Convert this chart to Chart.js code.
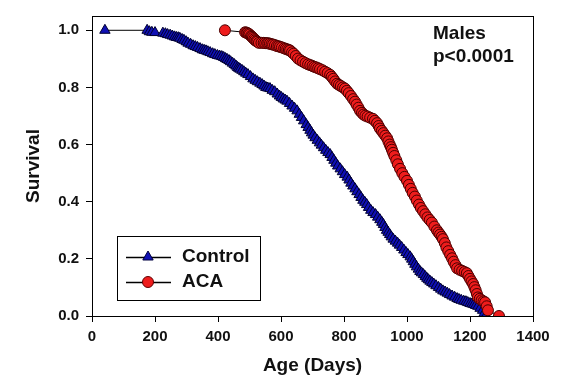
<!DOCTYPE html>
<html>
<head>
<meta charset="utf-8">
<script src="https://cdn.jsdelivr.net/npm/chart.js@4"></script>
<style>
  html, body { margin: 0; padding: 0; background: #fff; }
  #wrap { width: 562px; height: 382px; }
</style>
</head>
<body>
<div id="wrap"><canvas id="chart" width="562" height="382"></canvas></div>
<script>
// Kaplan-Meier survival
const controlDays = [41, 175, 182, 190, 200, 225, 233, 240, 248, 255, 262, 268, 274, 279, 286, 292, 299, 305, 313, 321, 328, 335, 343, 350, 356, 362, 368, 375, 383, 390, 398, 405, 412, 418, 424, 429,
  435, 440, 446, 452, 457, 462, 466, 470, 476, 482, 488, 495, 503, 511, 518, 525, 533, 540, 546, 552, 558, 565, 572, 580, 588, 595, 601, 607, 613, 619, 627, 635, 643, 651, 658, 665, 672, 680, 686, 692,
  697, 702, 708, 715, 722, 728, 735, 742, 749, 756, 762, 768, 774, 780, 788, 795, 802, 810, 816, 822, 828, 835, 841, 848, 854, 860, 866, 872, 878, 885, 892, 900, 907, 914, 920, 925, 930, 935, 940, 945,
  950, 956, 963, 970, 976, 983, 990, 997, 1003, 1010, 1015, 1020, 1025, 1030, 1036, 1041, 1046, 1052, 1058, 1063, 1068, 1073, 1079, 1085, 1092, 1100, 1107, 1114, 1121, 1128, 1135, 1143, 1151, 1159, 1165, 1172, 1180, 1187, 1193, 1200,
  1206, 1212, 1218, 1225, 1232, 1240, 1245, 1250];
const controlSurv = [1.0, 1.0, 0.995, 0.993, 0.992, 0.99, 0.988, 0.985, 0.983, 0.98, 0.977, 0.975, 0.974, 0.972, 0.968, 0.965, 0.96, 0.955, 0.951, 0.946, 0.943, 0.94, 0.936, 0.932, 0.93, 0.928, 0.925, 0.922, 0.918, 0.915, 0.912, 0.91, 0.908, 0.905, 0.901, 0.898,
  0.894, 0.89, 0.885, 0.88, 0.875, 0.87, 0.867, 0.864, 0.86, 0.855, 0.85, 0.845, 0.838, 0.83, 0.825, 0.82, 0.815, 0.81, 0.805, 0.80, 0.798, 0.796, 0.79, 0.785, 0.777, 0.77, 0.765, 0.76, 0.756, 0.752, 0.744, 0.735, 0.727, 0.718, 0.706, 0.695, 0.683, 0.67, 0.66, 0.65,
  0.641, 0.633, 0.624, 0.615, 0.606, 0.598, 0.589, 0.58, 0.572, 0.565, 0.555, 0.545, 0.535, 0.525, 0.515, 0.505, 0.495, 0.486, 0.476, 0.465, 0.455, 0.445, 0.435, 0.425, 0.415, 0.405, 0.398, 0.39, 0.38, 0.37, 0.362, 0.355, 0.346, 0.337, 0.328, 0.32, 0.31, 0.30, 0.293, 0.285,
  0.277, 0.269, 0.262, 0.255, 0.248, 0.24, 0.231, 0.222, 0.215, 0.207, 0.199, 0.19, 0.181, 0.172, 0.164, 0.156, 0.151, 0.145, 0.138, 0.132, 0.127, 0.122, 0.117, 0.112, 0.106, 0.10, 0.094, 0.088, 0.084, 0.08, 0.075, 0.07, 0.066, 0.061, 0.058, 0.055, 0.052, 0.05, 0.047, 0.044,
  0.042, 0.04, 0.037, 0.034, 0.027, 0.02, 0.01, 0.0];

const acaDays = [422, 486, 490, 493, 497, 500, 505, 508, 511, 515, 518, 522, 525, 530, 538, 545, 550, 556, 560, 565, 570, 575, 581, 587, 592, 597, 603, 610, 615, 620, 625, 629, 635, 640, 647, 654,
  662, 670, 678, 686, 693, 700, 706, 712, 718, 724, 732, 740, 748, 756, 761, 766, 772, 778, 784, 790, 797, 803, 809, 815, 822, 829, 835, 840, 846, 851, 857, 862, 868, 875, 883, 892, 898, 905, 910, 914,
  920, 925, 931, 937, 941, 945, 949, 952, 956, 960, 966, 971, 978, 985, 992, 1000, 1006, 1012, 1018, 1025, 1031, 1038, 1044, 1051, 1058, 1065, 1072, 1079, 1087, 1095, 1100, 1105, 1110, 1114, 1120, 1125, 1131, 1137, 1143, 1148,
  1154, 1159, 1167, 1175, 1183, 1190, 1195, 1200, 1205, 1210, 1214, 1218, 1222, 1225, 1231, 1237, 1243, 1248, 1253, 1257, 1292];
const acaSurv = [1.0, 0.993, 0.992, 0.99, 0.988, 0.985, 0.98, 0.977, 0.973, 0.969, 0.965, 0.962, 0.96, 0.956, 0.956, 0.956, 0.955, 0.955, 0.954, 0.953, 0.951, 0.95, 0.948, 0.945, 0.944, 0.942, 0.94, 0.937, 0.935, 0.933, 0.931, 0.929, 0.923, 0.918, 0.91, 0.901,
  0.895, 0.89, 0.885, 0.881, 0.878, 0.875, 0.872, 0.87, 0.867, 0.864, 0.86, 0.855, 0.85, 0.844, 0.837, 0.83, 0.821, 0.813, 0.809, 0.805, 0.8, 0.796, 0.788, 0.78, 0.77, 0.759, 0.75, 0.74, 0.729, 0.718, 0.711, 0.705, 0.701, 0.698, 0.694, 0.69, 0.683, 0.675, 0.665, 0.656,
  0.648, 0.64, 0.631, 0.622, 0.611, 0.60, 0.591, 0.582, 0.571, 0.56, 0.545, 0.531, 0.515, 0.50, 0.487, 0.473, 0.459, 0.445, 0.431, 0.418, 0.404, 0.39, 0.378, 0.367, 0.356, 0.345, 0.336, 0.327, 0.313, 0.30, 0.292, 0.285, 0.277, 0.269, 0.255, 0.24, 0.227, 0.214, 0.202, 0.19,
  0.178, 0.167, 0.162, 0.158, 0.154, 0.15, 0.14, 0.13, 0.121, 0.112, 0.101, 0.09, 0.077, 0.065, 0.06, 0.055, 0.051, 0.048, 0.034, 0.02, 0.0];

const xTicks = [0, 200, 400, 600, 800, 1000, 1200, 1400];
const yTicks = [0, 0.2, 0.4, 0.6, 0.8, 1.0];
const seriesNames = ["Control", "ACA"];
const noteLines = ["Males", "p<0.0001"];

const BOLD = "'Liberation Sans', Arial, sans-serif";
const CONTROL_FILL = "#1010b4";
const ACA_FILL = "#ee1c1c";

const toPoints = (xs, ys) => xs.map((x, i) => ({ x: x, y: ys[i] }));

// frame, legend box and the note in the corner
const decorations = {
  id: "decorations",
  afterDraw(chart) {
    const { ctx, chartArea: a } = chart;
    ctx.save();
    ctx.strokeStyle = "#000";
    ctx.lineWidth = 1;
    ctx.strokeRect(a.left + 0.5, a.top + 0.5, a.right - a.left, a.bottom - a.top);

    // legend
    ctx.strokeRect(117.5, 236.5, 143, 64);
    const rows = [
      { y: 257, style: "triangle", r: 6, fill: CONTROL_FILL, border: "#000040" },
      { y: 282, style: "circle", r: 5.5, fill: ACA_FILL, border: "#600000" }
    ];
    rows.forEach((row, i) => {
      ctx.beginPath();
      ctx.moveTo(126, row.y + 0.5);
      ctx.lineTo(171, row.y + 0.5);
      ctx.strokeStyle = "#000";
      ctx.lineWidth = 1.5;
      ctx.stroke();
      ctx.fillStyle = row.fill;
      ctx.strokeStyle = row.border;
      ctx.lineWidth = 1;
      Chart.helpers.drawPoint(ctx, { pointStyle: row.style, radius: row.r, borderWidth: 1 }, 148, row.y);
      ctx.fillStyle = "#111";
      ctx.font = "bold 19px " + BOLD;
      ctx.textBaseline = "middle";
      ctx.textAlign = "left";
      ctx.fillText(seriesNames[i], 182, row.y);
    });

    // note
    ctx.fillStyle = "#111";
    ctx.font = "bold 19px " + BOLD;
    ctx.textBaseline = "middle";
    ctx.fillText(noteLines[0], 433, 34);
    ctx.fillText(noteLines[1], 433, 57);
    ctx.restore();
  }
};

new Chart(document.getElementById("chart"), {
  type: "line",
  data: {
    datasets: [
      {
        label: seriesNames[0],
        data: toPoints(controlDays, controlSurv),
        borderColor: "#000",
        borderWidth: 1,
        pointStyle: "triangle",
        pointRadius: 6,
        pointBackgroundColor: CONTROL_FILL,
        pointBorderColor: "#000030",
        pointBorderWidth: 1,
        order: 1
      },
      {
        label: seriesNames[1],
        data: toPoints(acaDays, acaSurv),
        borderColor: "#000",
        borderWidth: 1,
        pointStyle: "circle",
        pointRadius: 5.5,
        pointBackgroundColor: ACA_FILL,
        pointBorderColor: "#4a0000",
        pointBorderWidth: 1,
        order: 0
      }
    ]
  },
  options: {
    responsive: false,
    animation: false,
    layout: { padding: { top: 7, right: 29, left: 0, bottom: 0 } },
    plugins: { legend: { display: false }, tooltip: { enabled: false } },
    scales: {
      x: {
        type: "linear",
        min: 0,
        max: 1400,
        afterFit: (s) => { s.height = 66; },
        afterBuildTicks: (s) => { s.ticks = xTicks.map(v => ({ value: v })); },
        grid: { drawOnChartArea: false, drawTicks: true, tickLength: 6, color: "#000" },
        border: { display: true, color: "#000", width: 1 },
        ticks: { color: "#111", font: { family: BOLD, size: 15, weight: "bold" }, padding: 6, maxRotation: 0, callback: (v) => String(v) },
        title: { display: true, text: "Age (Days)", color: "#111", font: { family: BOLD, size: 19, weight: "bold" }, padding: { bottom: 5, top: 0 } }
      },
      y: {
        type: "linear",
        min: 0,
        max: 1.05,
        afterFit: (s) => { s.width = 92; },
        afterBuildTicks: (s) => { s.ticks = yTicks.map(v => ({ value: v })); },
        grid: { drawOnChartArea: false, drawTicks: true, tickLength: 6, color: "#000" },
        border: { display: true, color: "#000", width: 1 },
        ticks: { color: "#111", font: { family: BOLD, size: 15, weight: "bold" }, padding: 7, callback: (v) => v.toFixed(1) },
        title: { display: true, text: "Survival", color: "#111", font: { family: BOLD, size: 19, weight: "bold" }, padding: { top: 22, bottom: 0 } }
      }
    }
  },
  plugins: [decorations]
});
</script>
</body>
</html>
